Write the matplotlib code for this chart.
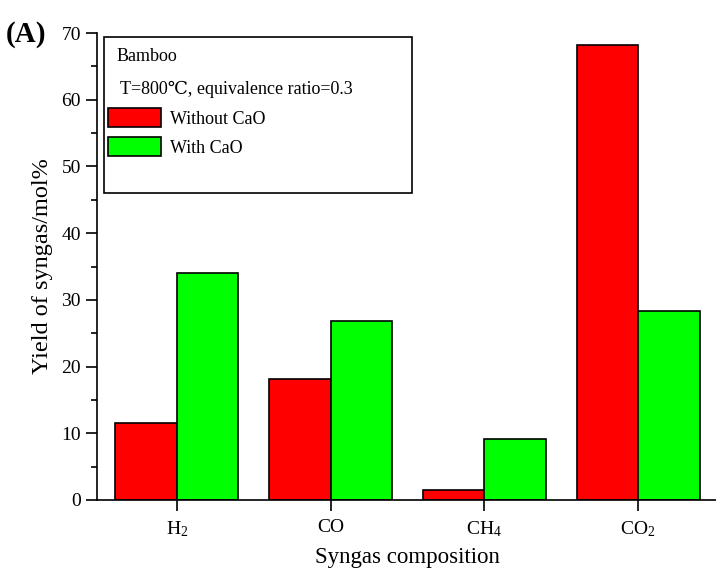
import matplotlib
matplotlib.use("Agg")
import matplotlib.pyplot as plt
import numpy as np
from matplotlib.ticker import MultipleLocator
from matplotlib.patches import Rectangle

categories = ["H$_2$", "CO", "CH$_4$", "CO$_2$"]
without_cao = [11.5, 18.1, 1.5, 68.2]
with_cao = [34.1, 26.9, 9.2, 28.4]
series_labels = ["Without CaO", "With CaO"]

plt.rcParams['font.family'] = ['Liberation Serif', 'DejaVu Serif']
plt.rcParams['mathtext.fontset'] = 'custom'
plt.rcParams['mathtext.rm'] = 'Liberation Serif'
plt.rcParams['mathtext.it'] = 'Liberation Serif'

fig = plt.figure(figsize=(7.16, 5.76), dpi=100)
ax = fig.add_axes([97/716, 76/576, 621/716, 467/576])

x = np.arange(len(categories))
w = 0.4
ax.bar(x - w/2, without_cao, w, color='#FF0000', edgecolor='black', linewidth=1.2, label=series_labels[0])
ax.bar(x + w/2, with_cao, w, color='#00FF00', edgecolor='black', linewidth=1.2, label=series_labels[1])

ax.set_xlim(-0.52, 3.52)
ax.set_ylim(0, 70)
ax.yaxis.set_major_locator(MultipleLocator(10))
ax.yaxis.set_minor_locator(MultipleLocator(5))
ax.set_xticks(x)
ax.set_xticklabels(categories)
ax.tick_params(axis='both', which='major', direction='out', length=8, width=1.2, labelsize=14)
ax.tick_params(axis='y', which='minor', direction='out', length=4.5, width=1.2)
ax.tick_params(axis='x', pad=6)
for s in ['top', 'right']:
    ax.spines[s].set_visible(False)
for s in ['left', 'bottom']:
    ax.spines[s].set_linewidth(1.2)

ax.set_ylabel("Yield of syngas/mol%", fontsize=17.5, labelpad=6)
ax.set_xlabel("Syngas composition", fontsize=16.5, labelpad=6)

# legend frame and header text
ax.add_patch(Rectangle((0.011, 0.657), 0.496, 0.334, transform=ax.transAxes,
                       facecolor='white', edgecolor='black', linewidth=1.2, zorder=5))
ax.text(0.031, 0.950, "Bamboo", transform=ax.transAxes, fontsize=13, va='center', ha='left', zorder=6)
ax.text(0.037, 0.880, "T=800\u2103, equivalence ratio=0.3", transform=ax.transAxes,
        fontsize=13, va='center', ha='left', zorder=6)

leg = ax.legend(loc='upper left', bbox_to_anchor=(0.018, 0.840), fontsize=13,
                frameon=False, handlelength=2.95, handleheight=1.3, borderpad=0,
                labelspacing=0.5, handletextpad=0.45, borderaxespad=0)
leg.set_zorder(7)
for h in leg.legend_handles:
    h.set_linewidth(1.2)

fig.text(6/716, 1 - 34/576, "(A)", fontsize=21, fontweight='bold', va='center', ha='left')

fig.savefig("out.png", dpi=100)
